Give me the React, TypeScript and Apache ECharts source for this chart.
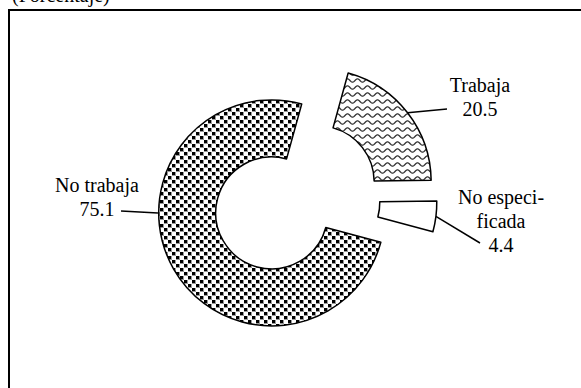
import React, { useEffect, useRef } from 'react';
import * as echarts from 'echarts';

// ---- data ----
const categories: string[] = ['Trabaja', 'No especificada', 'No trabaja'];
const labelNames: string[] = ['Trabaja', 'No especi-\nficada', 'No trabaja'];
const values: number[] = [20.5, 4.4, 75.1];
const titleText = '(Porcentaje)';

// ---- layout ----
const FONT = 'Liberation Serif';
const CX = 296;
const CY = 199;
const EXPLODE = 28;
const RADII = [56, 113];
const START = 74.6;
const labelPos = [
  { x: 480, y: 73 },
  { x: 501, y: 185 },
  { x: 97, y: 173 },
];
const lineEnds = [
  [447, 109],
  [480, 243],
  [121, 211],
];

function makeDots(): HTMLCanvasElement {
  const c = document.createElement('canvas');
  c.width = 8;
  c.height = 8;
  const g = c.getContext('2d')!;
  g.fillStyle = '#fff';
  g.fillRect(0, 0, 8, 8);
  g.fillStyle = '#999';
  g.fillRect(0, 0, 4, 4);
  g.fillRect(4, 4, 4, 4);
  g.fillStyle = '#000';
  g.fillRect(0, 0, 3, 3);
  g.fillRect(4, 4, 3, 3);
  return c;
}

function makeWaves(): HTMLCanvasElement {
  const w = 10;
  const h = 7;
  const c = document.createElement('canvas');
  c.width = w;
  c.height = h;
  const g = c.getContext('2d')!;
  g.fillStyle = '#fff';
  g.fillRect(0, 0, w, h);
  g.strokeStyle = '#333';
  g.lineWidth = 1.3;
  for (const oy of [-h, 0, h]) {
    g.beginPath();
    for (let x = -1; x <= w + 1; x += 0.5) {
      const y = h / 2 + oy + 1.6 * Math.sin((x / w) * 2 * Math.PI);
      if (x === -1) g.moveTo(x, y);
      else g.lineTo(x, y);
    }
    g.stroke();
  }
  return c;
}

export default function App() {
  const ref = useRef<HTMLDivElement>(null);
  useEffect(() => {
    if (!ref.current) return;
    const chart = echarts.init(ref.current, null, { renderer: 'svg' });
    const dots = makeDots();
    const waves = makeWaves();
    const fills: any[] = [
      { image: waves, repeat: 'repeat', imageWidth: waves.width, imageHeight: waves.height },
      '#ffffff',
      { image: dots, repeat: 'repeat', imageWidth: dots.width, imageHeight: dots.height },
    ];
    const total = values.reduce((a, b) => a + b, 0);
    let cum = 0;
    const series = values.map((v, i) => {
      const midDeg = START - ((cum + v / 2) / total) * 360;
      cum += v;
      const rad = (midDeg * Math.PI) / 180;
      const center = [CX + EXPLODE * Math.cos(rad), CY - EXPLODE * Math.sin(rad)];
      return {
        type: 'pie',
        silent: true,
        center,
        radius: RADII,
        startAngle: START,
        clockwise: true,
        avoidLabelOverlap: false,
        emphasis: { disabled: true },
        data: values.map((val, j) => ({
          name: categories[j],
          value: val,
          itemStyle:
            j === i
              ? { color: fills[i], borderColor: '#000', borderWidth: 1.5 }
              : { color: 'rgba(0,0,0,0)', borderWidth: 0 },
          label: { show: j === i },
          labelLine: { show: j === i },
        })),
        label: {
          position: 'outside',
          formatter: (p: any) => `${labelNames[p.dataIndex]}\n${Number(p.value).toFixed(1)}`,
          fontFamily: FONT,
          fontSize: 20,
          lineHeight: 24,
          color: '#000',
        },
        labelLine: {
          length: 8,
          length2: 8,
          lineStyle: { color: '#000', width: 1.5 },
        },
        labelLayout: (params: any) => {
          if (params.dataIndex !== i) return {};
          let start: number[];
          if (i === 2) {
            start = [params.rect.x, params.rect.y + params.rect.height / 2];
          } else {
            start = params.labelLinePoints ? params.labelLinePoints[0] : lineEnds[i];
          }
          return {
            x: labelPos[i].x,
            y: labelPos[i].y,
            align: 'center',
            verticalAlign: 'top',
            labelLinePoints: [start, lineEnds[i]],
          };
        },
      };
    });

    chart.setOption({
      animation: false,
      backgroundColor: '#fff',
      graphic: [
        {
          type: 'rect',
          shape: { x: 9, y: 10, width: 620, height: 420 },
          style: { fill: 'none', stroke: '#000', lineWidth: 2 },
          silent: true,
        },
        {
          type: 'text',
          x: 12,
          y: -4.75,
          style: {
            text: titleText,
            font: `20px ${FONT}`,
            fill: '#000',
            verticalAlign: 'middle',
            align: 'left',
          },
          silent: true,
        },
      ],
      series,
    } as any);
    return () => chart.dispose();
  }, []);
  return (
    <div
      ref={ref}
      style={{ position: 'fixed', left: 0, top: 0, width: 581, height: 388, background: '#fff' }}
    />
  );
}
